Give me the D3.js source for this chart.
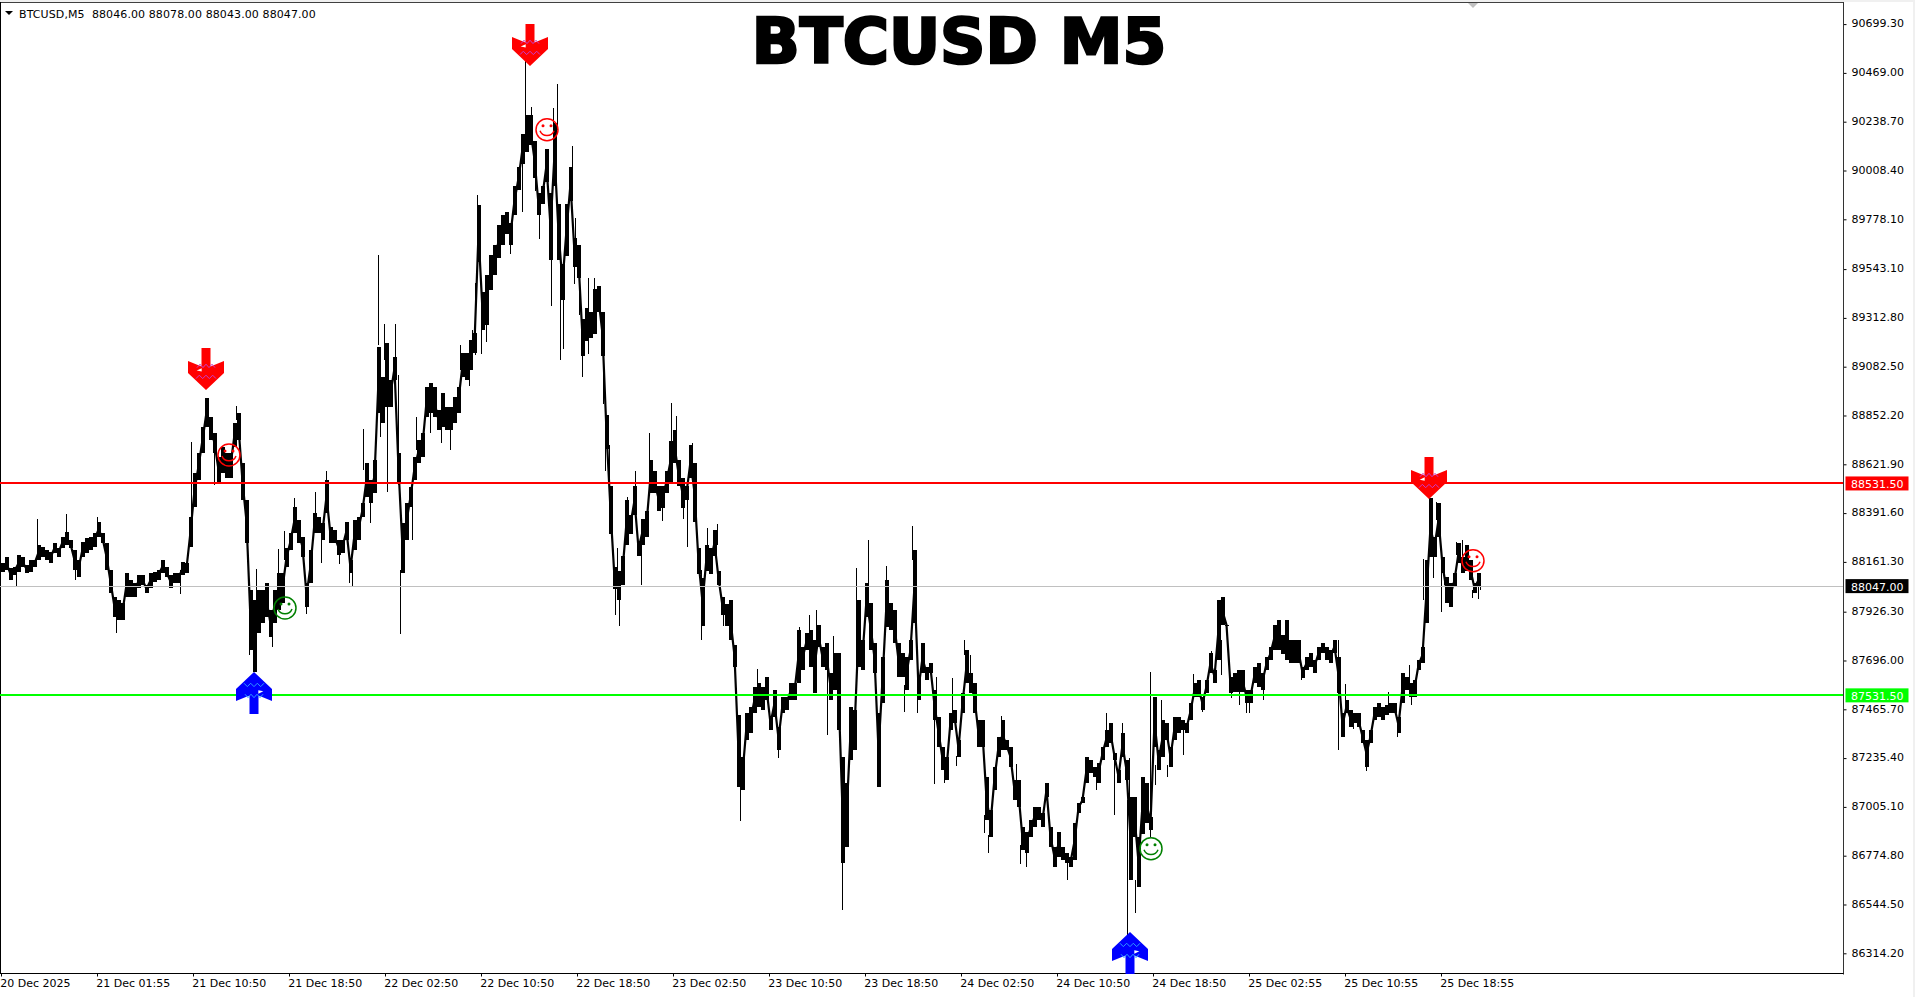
<!DOCTYPE html>
<html><head><meta charset="utf-8">
<script src="https://cdn.jsdelivr.net/npm/d3@7/dist/d3.min.js"></script>
<style>
html,body{margin:0;padding:0;background:#fff;overflow:hidden}
text{font-family:"DejaVu Sans",sans-serif;font-size:11px;fill:#000}
</style></head><body><div id="chart"></div>
<script>
const chartTitle = "BTCUSD M5";
const header = "BTCUSD,M5  88046.00 88078.00 88043.00 88047.00";
const barStep = 4; // one high/low pair per four 5-minute bars
const highs = [
88156,88185,88133,88137,88194,88185,88147,88170,88170,88241,
88232,88218,88208,88251,88227,88279,88302,88265,88218,88170,
88255,88274,88279,88298,88350,88298,88251,88123,87996,87982,
87967,88109,88076,88062,88100,88100,88052,88109,88114,88123,
88170,88137,88100,88109,88109,88161,88156,88373,88581,88675,
88798,88935,88845,88770,88656,88704,88675,88675,88817,88864,
88628,88453,88029,
87982,88029,88029,88062,87934,88029,88109,88109,88227,88298,
88420,88359,88279,88062,88218,88392,88373,88345,88548,88326,
88312,88265,88265,88350,88156,88359,88373,88439,88628,88548,
88642,89175,89034,89194,89020,89128,88675,88345,88439,88515,
88656,88737,88770,88987,89006,88987,88878,88958,88892,88892,
88940,88987,89147,89147,89209,89242,89846,89435,89515,89610,
89657,89751,
89798,89813,89761,89935,90025,90181,90270,90270,90148,89902,
89935,90110,89902,90233,89850,89567,89850,90025,89690,89657,
89308,89360,89341,89449,89463,89341,88855,88520,88137,88118,
88189,88453,88383,88520,88260,88364,88402,88642,88590,88520,
88520,88590,88732,88784,88642,88557,88520,88713,88628,88227,
88085,88241,88227,88312,88118,87996,87963,87982,
87769,87439,87241,87448,87477,87571,87590,87571,87619,87430,
87557,87383,87524,87524,87590,87590,87840,87760,87826,87840,
87793,87864,87760,87779,87637,87731,87731,87241,87118,87477,
87463,87982,87793,88062,87967,87779,87448,87713,88076,87967,
87934,87779,87731,87713,87793,88218,87618,87779,87665,87684,
87556,87430,87288,87241,87448,87463,87321,
87543,87746,87637,87590,87415,87415,87146,86991,87194,87335,
87415,87321,87288,87132,87132,86911,86885,86945,87005,87005,
86977,87118,86911,86816,86885,86816,86788,86769,86930,87024,
87052,87241,87227,87194,87213,87288,87368,87401,87260,87180,
87354,87227,87052,87052,86863,87146,87118,86958,87524,87274,
87415,87401,87288,87430,87430,87415,87401,87496,87590,
87604,87524,87604,87732,87651,87982,87996,87864,87618,87637,
87651,87651,87557,87557,87665,87684,87637,87713,87760,87864,
87887,87817,87887,87793,87793,87793,87665,87713,87732,87699,
87760,87779,87760,87746,87793,87713,87448,87510,87463,87448,
87448,87368,87321,87368,87477,87496,87477,87486,87496,87496,
87430,87637,87618,87590,87604,87699,87760,
88170,88463,88279,88440,88184,88090,88062,88109,88249,88184,88241,88170,88062,88109
];
const lows = [
88114,88123,88076,88100,88114,88137,88109,88114,88137,88170,
88185,88170,88156,88203,88185,88227,88241,88227,88123,88090,
88185,88203,88218,88232,88279,88251,88123,88015,87901,87887,
87887,87996,87996,87996,88038,88052,88015,88038,88066,88076,
88109,88090,88038,88062,88062,88100,88109,88232,88420,88548,
88675,88798,88737,88675,88538,88581,88557,88557,88704,88737,
88453,88251,87746,
87642,87826,87873,87901,87807,87873,87934,87967,88137,88218,
88298,88251,88185,87949,88062,88298,88298,88265,88392,88251,
88251,88194,88203,88265,88109,88218,88265,88373,88468,88439,
88487,88864,88817,88892,88892,89020,88534,88109,88265,88421,
88548,88628,88656,88845,88864,88845,88784,88798,88784,88784,
88817,88864,89034,89020,89067,89147,89577,89256,89279,89444,
89515,89595,
89657,89709,89657,89798,89916,90039,90096,90129,89973,89798,
89850,89954,89586,89935,89586,89397,89605,89864,89553,89501,
89133,89204,89218,89237,89341,89133,88694,88293,88034,87982,
88052,88241,88293,88383,88189,88241,88279,88487,88487,88402,
88416,88487,88538,88628,88520,88416,88453,88557,88350,88104,
87859,88118,88104,88189,88052,87911,87859,87793,
87666,87099,87085,87321,87354,87448,87477,87463,87510,87368,
87430,87274,87448,87463,87510,87510,87590,87651,87746,87665,
87543,87760,87665,87651,87510,87557,87368,86741,86816,87227,
87274,87666,87651,87902,87746,87637,87099,87496,87855,87840,
87779,87618,87618,87557,87699,87873,87510,87637,87604,87637,
87415,87288,87180,87132,87368,87401,87241,
87448,87590,87543,87448,87288,87288,86944,86863,87085,87241,
87274,87274,87194,87038,87005,86802,86788,86864,86911,86944,
86911,87052,86816,86722,86769,86755,86741,86722,86755,86977,
87024,87118,87165,87146,87118,87227,87288,87307,87227,87118,
87241,87132,86660,86863,86627,86879,86930,86896,87288,87180,
87241,87321,87194,87321,87354,87368,87354,87415,87524,
87524,87462,87543,87638,87590,87699,87863,87864,87543,87548,
87548,87548,87495,87495,87590,87571,87557,87651,87699,87746,
87746,87727,87698,87684,87684,87684,87614,87651,87665,87637,
87698,87731,87698,87684,87731,87543,87335,87448,87382,87401,
87382,87307,87194,87307,87415,87430,87415,87439,87449,87449,
87354,87496,87557,87524,87524,87651,87684,
87873,88185,88185,88279,88109,87968,87949,88043,88156,88109,88118,88076,88015,88043
];
const spikeBars = [16,37,66,97,116,75,180,191,236,214,249,378,384,395,387,400,398,363,326,315,306,294,284,278,272,256,321,339,352,349,412,370,380,416,430,441,450,481,486,475,460,472,469,477,
525,557,531,553,572,551,560,563,539,510,522,535,575,574,579,582,588,594,603,605,609,612,615,617,619,627,635,641,649,671,676,662,687,683,692,701,717,707,723,729,
740,757,778,799,809,816,827,833,842,856,868,886,912,904,934,944,956,917,936,952,
964,970,984,988,1001,1020,1026,1067,1114,1106,1122,1096,1150,1127,1135,1155,1167,1161,1183,1193,1129,1016,
1202,1211,1221,1231,1239,1246,1249,1263,1301,1338,1345,1353,1366,1397,1388,1409,1411,1423,1433,1436,1441,1450,1444,1456,1462,1472,1478,1477,1480];
const spikeHighs = [88123,88364,88388,88373,87982,88218,88123,88727,88897,88737,87982,89610,89284,89284,88925,88123,89043,88789,88590,88491,88029,88463,88307,88222,87887,88128,88312,88265,88170,88170,88453,88501,88925,88845,88925,88831,88807,89397,89303,89477,89185,89256,89114,89893,
90530,90417,90308,90303,90124,89680,89633,89445,89822,89680,90058,90011,89784,89586,89482,89161,89501,89501,89133,88925,88713,88364,88052,88227,88005,88468,88590,88265,88770,88911,88850,88430,88477,88430,88723,88123,88340,88321,87934,87958,
87109,87656,87297,87854,87911,87935,87675,87812,86755,88133,88265,88142,88331,87581,87439,87180,87246,87533,87618,87613,
87793,87722,86967,86872,87434,86825,86802,86755,87227,87448,87401,87156,87642,87038,86658,87204,87203,87510,87368,87633,87236,87208,
87486,87741,87793,87557,87557,87510,87510,87580,87628,87793,87585,87415,87203,87368,87548,87675,87533,88175,88194,88444,88123,87982,88137,88256,88265,88029,88052,88109,88076];
const spikeLows = [88043,88241,88288,88312,87826,88076,88010,88359,88831,88524,87722,89185,89114,89114,88491,87821,88524,88595,88501,88312,87916,88406,88170,88100,87760,87982,88156,88151,88043,88062,88265,88345,88751,88689,88770,88722,88690,89143,89199,89138,89067,89162,88992,89680,
90270,90200,90247,90223,90011,89369,89114,89166,89685,89614,89813,89912,89633,89473,89327,89034,89143,89397,88907,88590,88435,88246,87911,88100,87860,88407,88501,88052,88619,88713,88760,88354,88232,88364,88643,87793,88241,88218,87859,87793,
86939,87557,87236,87793,87816,87793,87345,87699,86519,87543,88029,88029,88170,87453,87113,87118,87199,87448,87462,87439,
87722,87604,86882,86788,87368,86736,86722,86660,86967,87368,87321,87085,86863,86401,86505,87109,87146,87391,87250,87557,87038,87109,
87453,87699,87628,87519,87486,87448,87448,87510,87604,87274,87486,87373,87175,87335,87486,87581,87486,87982,88085,88359,87925,87958,88052,88194,88170,87991,87986,88052,88029];
const yTicks = [90699.30,90469.00,90238.70,90008.40,89778.10,89543.10,89312.80,89082.50,88852.20,88621.90,88391.60,88161.30,87926.30,87696.00,87465.70,87235.40,87005.10,86774.80,86544.50,86314.20];
const xTickBars = [1,97,193,289,385,481,577,673,769,865,961,1057,1153,1249,1345,1441];
const xTickLabels = ["20 Dec 2025","21 Dec 01:55","21 Dec 10:50","21 Dec 18:50","22 Dec 02:50","22 Dec 10:50","22 Dec 18:50","23 Dec 02:50","23 Dec 10:50","23 Dec 18:50","24 Dec 02:50","24 Dec 10:50","24 Dec 18:50","25 Dec 02:55","25 Dec 10:55","25 Dec 18:55"];
const levelPrices = [88531.5, 87531.5, 88047.0];
const levelColors = ["#ff0000","#00ff00","#c0c0c0"];
const levelBadges = ["#ff0000","#00ff00","#000000"];
const sellBars = [206,530,1429];
const sellPrices = [88973,90502,88458];
const buyBars = [254,1130];
const buyPrices = [87642,86415];
const smileBars = [229,285,547,1151,1473];
const smilePrices = [88666,87944,90201,86808,88167];
const smileColors = ["#ff0000","#008000","#ff0000","#008000","#ff0000"];

const W = 1915, H = 997, axisX = 1843.5, axisY = 973.5;
const x = d3.scaleLinear().domain([0, 1843]).range([0, 1843]);
const y = d3.scaleLinear().domain([90699.3, 86314.2]).range([24.1, 953.3]);
const svg = d3.select("#chart").append("svg").attr("width", W).attr("height", H).style("display","block");

svg.append("rect").attr("width",W).attr("height",H).attr("fill","#fff");
svg.append("rect").attr("x",W-2).attr("width",2).attr("height",H).attr("fill","#f0f0f0");
svg.append("rect").attr("width",W).attr("height",2).attr("fill","#f0f0f0");
svg.append("line").attr("x1",0).attr("x2",axisX).attr("y1",2.5).attr("y2",2.5).attr("stroke","#404040");
svg.append("line").attr("x1",0.5).attr("x2",0.5).attr("y1",2).attr("y2",axisY).attr("stroke","#000");
svg.append("path").attr("d","M1468,3L1478,3L1473,8Z").attr("fill","#c0c0c0");

const plot = svg.append("g");
// the drawn samples stand for several bars each: join them so the trace stays continuous
plot.append("path")
  .attr("d", d3.line().x((d,i)=>x(2+barStep*i)+0.5).y((d,i)=>(y(d)+y(lows[i]))/2)(highs))
  .attr("fill","none").attr("stroke","#000").attr("stroke-width",2.2);
plot.selectAll("rect.body").data(highs).join("rect").attr("class","body")
  .attr("x",(d,i)=>x(2+barStep*i)-1.5).attr("width",4)
  .attr("y",d=>y(d)).attr("height",(d,i)=>Math.max(1,y(lows[i])-y(d)))
  .attr("fill","#000").attr("shape-rendering","crispEdges");
plot.selectAll("line.spike").data(spikeBars).join("line").attr("class","spike")
  .attr("x1",d=>x(d)+0.5).attr("x2",d=>x(d)+0.5)
  .attr("y1",(d,i)=>y(spikeHighs[i])).attr("y2",(d,i)=>y(spikeLows[i]))
  .attr("stroke","#000").attr("stroke-width",1).attr("shape-rendering","crispEdges");

plot.selectAll("line.level").data(levelPrices).join("line").attr("class","level")
  .attr("x1",0).attr("x2",axisX).attr("y1",d=>y(d)).attr("y2",d=>y(d))
  .attr("stroke",(d,i)=>levelColors[i]).attr("stroke-width",(d,i)=>i<2?2:1)
  .attr("shape-rendering","crispEdges");

// right axis
const yAxis = d3.axisRight(y).tickValues(yTicks).tickSize(3).tickPadding(4).tickFormat(d3.format(".2f"));
const gy = svg.append("g").attr("transform",`translate(${axisX},0)`).call(yAxis);
gy.select(".domain").remove();
gy.selectAll("line").attr("stroke","#000");
gy.selectAll("text").attr("dx",1).attr("y",-0.8);
svg.append("line").attr("x1",axisX).attr("x2",axisX).attr("y1",2).attr("y2",axisY+1).attr("stroke","#333");

// bottom axis
const xAxis = d3.axisBottom(x).tickValues(xTickBars).tickSize(3).tickPadding(3)
  .tickFormat((d,i)=>xTickLabels[i]);
const gx = svg.append("g").attr("transform",`translate(0,${axisY})`).call(xAxis);
gx.select(".domain").remove();
gx.selectAll("line").attr("stroke","#000");
gx.selectAll("text").attr("text-anchor","start").attr("dx",-1.2).attr("dy",7.5);
svg.append("line").attr("x1",0).attr("x2",axisX).attr("y1",axisY).attr("y2",axisY).attr("stroke","#000");

// price badges
const badge = svg.selectAll("g.badge").data(levelPrices).join("g").attr("class","badge")
  .attr("transform",d=>`translate(${axisX+2},${y(d)})`);
badge.append("rect").attr("y",-7).attr("width",63).attr("height",14).attr("fill",(d,i)=>levelBadges[i]);
badge.append("text").attr("x",5.5).attr("dy","0.42em").style("fill","#fff").text(d=>d3.format(".2f")(d));

// arrows
const arrowShape = [[0,0],[18,-17],[18,-29],[4.5,-23.5],[4.5,-42],[-4.5,-42],[-4.5,-23.5],[-18,-29],[-18,-17]];
const zigzag = (w,yy)=>d3.range(-w,w+0.1,w/3).map((px,k)=>[px,yy+(k%2?-1.7:1.7)]);
const line = d3.line();
function arrow(bar,price,dir,fill,zig,side){
  const g = svg.append("g").attr("transform",`translate(${x(bar)},${y(price)}) scale(1,${dir})`);
  g.append("path").attr("d",line(arrowShape)+"Z").attr("fill",fill);
  g.append("path").attr("d",line([[side*9.3,-19.3],[side*4.3,-21.7],[side*4.3,-18.3]])+"Z").attr("fill","#fff");
  g.append("path").attr("d",line(zigzag(9,-24))).attr("fill","none").attr("stroke",zig).attr("stroke-width",1);
  g.append("path").attr("d",line(zigzag(10,-13))).attr("fill","none").attr("stroke",zig).attr("stroke-width",1);
}
sellBars.forEach((b,i)=>arrow(b,sellPrices[i],1,"#ff0000","#c83cc8",-1));
buyBars.forEach((b,i)=>arrow(b,buyPrices[i],-1,"#0000ff","#2f9bff",1));

// smileys
smileBars.forEach((b,i)=>{
  const c = smileColors[i];
  const g = svg.append("g").attr("transform",`translate(${x(b)},${y(smilePrices[i])})`);
  g.append("circle").attr("r",11).attr("fill","none").attr("stroke",c).attr("stroke-width",1.5);
  g.append("circle").attr("cx",-4).attr("cy",-4).attr("r",1.5).attr("fill",c);
  g.append("circle").attr("cx",4).attr("cy",-4).attr("r",1.5).attr("fill",c);
  g.append("path").attr("d","M-7,1A7.5,7.5 0 0 0 7,1").attr("fill","none").attr("stroke",c).attr("stroke-width",1.5);
});

// header
svg.append("path").attr("d","M5,11L13,11L9,15Z").attr("fill","#000");
svg.append("text").attr("x",19).attr("y",17.5).style("letter-spacing","0.1px").style("white-space","pre").text(header);
svg.append("text").attr("x",959).attr("y",63).attr("text-anchor","middle")
  .style("font-family","'DejaVu Sans',sans-serif").style("font-weight","bold").style("font-size","63px")
  .style("stroke","#000").style("stroke-width","2.6px").text(chartTitle);
</script></body></html>
